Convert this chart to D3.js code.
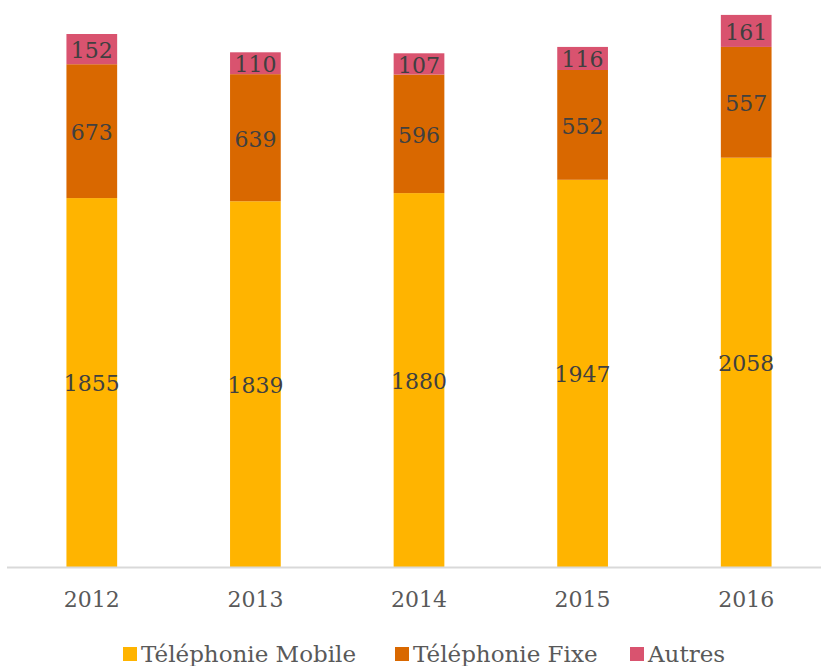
<!DOCTYPE html>
<html>
<head>
<meta charset="utf-8">
<script src="https://cdn.jsdelivr.net/npm/d3@7"></script>
<style>
body{margin:0;background:#fff;}
#canvas{width:821px;height:666px;}
text{font-family:"DejaVu Serif",serif;}
</style>
</head>
<body>
<div id="canvas" class="canvas"></div>
<script>
var years = ['2012','2013','2014','2015','2016'];
var mobile = [1855,1839,1880,1947,2058];
var fixe = [673,639,596,552,557];
var autres = [152,110,107,116,161];
var seriesNames = ['Téléphonie Mobile','Téléphonie Fixe','Autres'];
var colors = ['#FFB400','#D96800','#D9536F'];

var W = 821, H = 666;
var svg = d3.select('.canvas')
    .append('svg')
    .attr('width',W)
    .attr('height',H);

// build rows for the stack
var rows = years.map(function(y,i){
    return {year:y, m:mobile[i], f:fixe[i], a:autres[i]};
});
var stack = d3.stack().keys(['m','f','a'])(rows);

var scaleX = d3.scaleBand()
    .domain(years)
    .range([10,828])
    .paddingInner(0.69)
    .paddingOuter(0.345);
var scaleY = d3.scaleLinear()
    .domain([0,2680])
    .range([567,34]);

var layers = svg.selectAll('g.layer')
    .data(stack)
    .enter().append('g')
    .attr('class','layer')
    .attr('fill',function(d,i){return colors[i]});

layers.selectAll('rect')
    .data(function(d){return d})
    .enter().append('rect')
    .attr('x',function(d){return scaleX(d.data.year)})
    .attr('width',scaleX.bandwidth())
    .attr('y',function(d){return scaleY(d[1])})
    .attr('height',function(d){return scaleY(d[0])-scaleY(d[1])});

// value labels
layers.selectAll('text')
    .data(function(d){return d})
    .enter().append('text')
    .attr('x',function(d){return scaleX(d.data.year)+scaleX.bandwidth()/2})
    .attr('y',function(d){return (scaleY(d[0])+scaleY(d[1]))/2})
    .attr('dy','0.4em')
    .attr('text-anchor','middle')
    .attr('fill','#404040')
    .style('font-size','22px')
    .text(function(d){return d[1]-d[0]});

// x axis
var axisX = d3.axisBottom(scaleX).tickSize(0).tickPadding(24);
var axisNode = svg.append('g')
    .attr('transform','translate(0,567)')
    .call(axisX);
axisNode.select('.domain').remove();
axisNode.append('line')
    .attr('x1',7).attr('x2',821)
    .attr('y1',0.5).attr('y2',0.5)
    .attr('stroke','#D9D9D9')
    .attr('stroke-width',2);
axisNode.selectAll('text')
    .attr('fill','#595959')
    .style('font-size','22px')
    .style('font-family','"DejaVu Serif",serif');

// legend
var legX = [123,395,630];
var leg = svg.selectAll('g.leg')
    .data(seriesNames)
    .enter().append('g')
    .attr('class','leg')
    .attr('transform',function(d,i){return 'translate(' + legX[i] + ',647)'});
leg.append('rect')
    .attr('width',14).attr('height',14)
    .attr('fill',function(d,i){return colors[i]});
leg.append('text')
    .attr('x',18).attr('y',15)
    .attr('fill','#595959')
    .style('font-size','23px')
    .text(function(d){return d});
</script>
</body>
</html>
